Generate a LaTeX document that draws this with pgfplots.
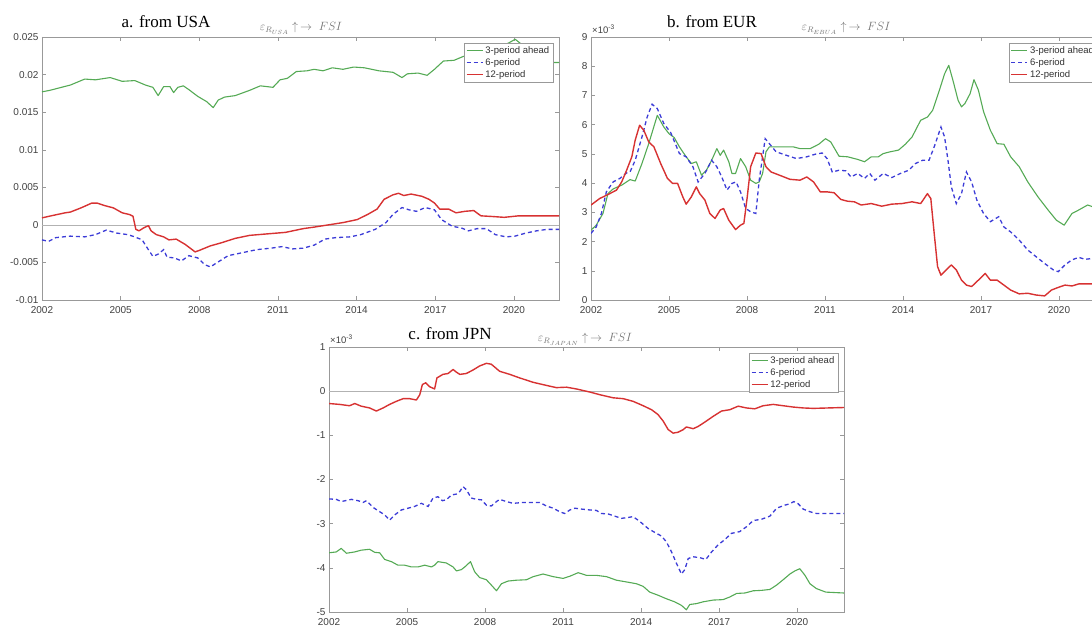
\documentclass[border=0pt]{standalone}
\usepackage{fontspec}
\setmainfont{Liberation Sans}
\newfontfamily\serif{Liberation Serif}
\usepackage{pgfplots}
\pgfplotsset{compat=1.18}

\definecolor{cgreen}{RGB}{85,170,85}
\definecolor{cblue}{RGB}{60,60,215}
\definecolor{cred}{RGB}{215,50,50}

\pgfplotsset{
  panel/.style={
    scale only axis,
    xmin=2002, xmax=2021.72,
    xtick={2002,2005,2008,2011,2014,2017,2020},
    xticklabels={2002,2005,2008,2011,2014,2017,2020},
    scaled y ticks=false,
    axis line style={black!40},
    tick style={black!40, thin},
    major tick length=4pt,
    tick label style={font=\fontsize{10}{12}\selectfont, text=black!75},
    xticklabel style={yshift=-3pt},
    legend style={at={(1,1)}, anchor=north east, xshift=-6pt, yshift=-6pt,
      draw=black!40, font=\fontsize{9.5}{10}\selectfont, inner sep=1.5pt,
      row sep=-0.5pt, cells={anchor=west}, text=black!80},
    legend image code/.code={\draw[##1] (0pt,0pt) -- (16pt,0pt);},
  },
  g3/.style={cgreen, line width=1.1pt, line join=round},
  b6/.style={cblue, line width=1.3pt, dash pattern=on 4pt off 3pt},
  r12/.style={cred, line width=1.4pt, line join=round},
}

\begin{document}
\begin{tikzpicture}
\useasboundingbox (0,0) rectangle (1092pt,628pt);

% ---------- a. from USA ----------
\begin{axis}[panel,
  at={(42pt,328pt)}, anchor=south west,
  width=517pt, height=263pt,
  ymin=-0.01, ymax=0.025,
  ytick={-0.01,-0.005,0,0.005,0.01,0.015,0.02,0.025},
  yticklabels={-0.01,-0.005,0,0.005,0.01,0.015,0.02,0.025},
]
\addplot[black!30, line width=0.6pt, forget plot] coordinates {(2002,0) (2021.72,0)};
\addplot[g3] coordinates {
(2002.0,0.0177) (2002.3,0.0179) (2002.74,0.0183) (2003.08,0.0186) (2003.63,0.0194)
(2004.04,0.0193) (2004.6,0.0196) (2005.06,0.0191) (2005.54,0.0192) (2005.95,0.0186)
(2006.23,0.0183) (2006.43,0.0172) (2006.64,0.0184) (2006.88,0.0184) (2007.02,0.0176)
(2007.18,0.0183) (2007.39,0.0185) (2007.6,0.0180) (2007.94,0.0171) (2008.28,0.0164)
(2008.53,0.0156) (2008.72,0.0166) (2008.96,0.0170) (2009.37,0.0172) (2009.92,0.0179)
(2010.33,0.0185) (2010.81,0.0183) (2011.08,0.0193) (2011.36,0.0195) (2011.7,0.0204)
(2012.11,0.0205) (2012.38,0.0207) (2012.72,0.0205) (2013.07,0.0209) (2013.48,0.0207)
(2013.89,0.0210) (2014.3,0.0209) (2014.85,0.0205) (2015.39,0.0203) (2015.73,0.0196)
(2015.94,0.0201) (2016.35,0.0202) (2016.69,0.0199) (2016.97,0.0207) (2017.31,0.0218)
(2017.72,0.0219) (2018.06,0.0224) (2018.5,0.0228) (2019.2,0.0234) (2019.8,0.0242)
(2020.05,0.0247) (2020.3,0.0240) (2020.6,0.0228) (2021.0,0.0222) (2021.5,0.0216)
(2021.72,0.0216)
};
\addplot[b6] coordinates {
(2002.0,-0.0020) (2002.25,-0.0022) (2002.53,-0.0017) (2003.08,-0.0015) (2003.63,-0.0016)
(2004.04,-0.0013) (2004.45,-0.0007) (2004.86,-0.0011) (2005.27,-0.0013) (2005.54,-0.0016)
(2005.82,-0.0020) (2006.02,-0.0031) (2006.23,-0.0042) (2006.43,-0.0039) (2006.64,-0.0033)
(2006.77,-0.0043) (2007.05,-0.0044) (2007.32,-0.0048) (2007.6,-0.0041) (2007.94,-0.0044)
(2008.21,-0.0053) (2008.42,-0.0056) (2008.69,-0.0050) (2009.1,-0.0041) (2009.65,-0.0037)
(2010.19,-0.0033) (2010.74,-0.0031) (2011.15,-0.0029) (2011.56,-0.0032) (2011.97,-0.0031)
(2012.38,-0.0027) (2012.79,-0.0019) (2013.2,-0.0017) (2013.75,-0.0016) (2014.16,-0.0013)
(2014.71,-0.0006) (2015.12,0.0003) (2015.39,0.0014) (2015.73,0.0023) (2016.0,0.0020)
(2016.28,0.0018) (2016.62,0.0023) (2016.97,0.0020) (2017.24,0.0007) (2017.65,-0.0002)
(2017.99,-0.0004) (2018.26,-0.0008) (2018.6,-0.0005) (2018.95,-0.0005) (2019.29,-0.0013)
(2019.7,-0.0016) (2020.04,-0.0015) (2020.45,-0.0011) (2020.86,-0.0008) (2021.27,-0.0006)
(2021.72,-0.0006)
};
\addplot[r12] coordinates {
(2002.0,0.00093) (2002.4,0.00124) (2002.88,0.0016) (2003.08,0.0017) (2003.49,0.00226)
(2003.9,0.0029) (2004.1,0.0029) (2004.38,0.00257) (2004.72,0.00226) (2005.06,0.0016)
(2005.34,0.00137) (2005.47,0.00115) (2005.58,-0.0006) (2005.7,-0.0008) (2005.88,-0.0004)
(2006.06,-0.0001) (2006.16,-0.0008) (2006.36,-0.0013) (2006.64,-0.0016) (2006.84,-0.0020)
(2007.12,-0.0019) (2007.46,-0.0026) (2007.84,-0.0036) (2008.0,-0.0034) (2008.42,-0.0028)
(2008.83,-0.0024) (2009.37,-0.0018) (2009.92,-0.0014) (2010.6,-0.0012) (2011.29,-0.0010)
(2011.97,-0.0005) (2012.38,-0.0003) (2012.93,0.0000) (2013.48,0.0003) (2014.02,0.0007)
(2014.43,0.0014) (2014.78,0.0021) (2015.05,0.0034) (2015.39,0.0040) (2015.6,0.0042)
(2015.8,0.0039) (2016.08,0.0041) (2016.49,0.0038) (2016.76,0.0034) (2016.97,0.0029)
(2017.17,0.0021) (2017.51,0.0021) (2017.79,0.0016) (2018.13,0.0018) (2018.47,0.0019)
(2018.74,0.0012) (2019.22,0.0011) (2019.63,0.0010) (2020.18,0.0012) (2020.86,0.0012)
(2021.72,0.0012)
};
\legend{3-period ahead,6-period,12-period}
\end{axis}

% ---------- b. from EUR ----------
\begin{axis}[panel, name=axb,
  at={(591pt,328pt)}, anchor=south west,
  width=512.7pt, height=263pt,
  ymin=0, ymax=9,
  ytick={0,1,2,3,4,5,6,7,8,9},
  yticklabels={0,1,2,3,4,5,6,7,8,9},
]
\addplot[g3] coordinates {
(2002.0,2.39) (2002.2,2.56) (2002.46,2.96) (2002.65,3.64) (2002.85,3.80) (2003.18,3.93)
(2003.5,4.12) (2003.7,4.07) (2003.96,4.67) (2004.22,5.35) (2004.55,6.32) (2004.8,5.92)
(2005.0,5.69) (2005.2,5.56) (2005.4,5.24) (2005.66,4.90) (2005.86,4.67) (2006.05,4.73)
(2006.25,4.27) (2006.44,4.44) (2006.64,4.78) (2006.84,5.18) (2006.97,4.95) (2007.1,5.13)
(2007.3,4.73) (2007.42,4.33) (2007.56,4.33) (2007.75,4.84) (2007.95,4.56) (2008.14,4.10)
(2008.34,3.99) (2008.47,4.04) (2008.6,4.33) (2008.73,5.07) (2008.86,5.24) (2009.25,5.24)
(2009.78,5.24) (2010.04,5.18) (2010.43,5.18) (2010.76,5.33) (2011.02,5.52) (2011.22,5.41)
(2011.54,4.92) (2011.87,4.90) (2012.26,4.81) (2012.52,4.73) (2012.78,4.90) (2013.05,4.90)
(2013.24,5.01) (2013.5,5.07) (2013.83,5.13) (2014.09,5.33) (2014.35,5.58) (2014.68,6.15)
(2014.94,6.26) (2015.14,6.49) (2015.4,7.18) (2015.6,7.74) (2015.76,8.03) (2015.92,7.52)
(2016.12,6.83) (2016.25,6.61) (2016.38,6.72) (2016.58,7.06) (2016.73,7.54) (2016.9,7.18)
(2017.1,6.44) (2017.36,5.81) (2017.62,5.35) (2017.88,5.33) (2018.14,4.90) (2018.47,4.56)
(2018.8,4.04) (2019.19,3.53) (2019.58,3.08) (2019.9,2.73) (2020.2,2.56) (2020.5,2.96)
(2020.76,3.08) (2021.1,3.25) (2021.3,3.19) (2021.72,3.20)
};
\addplot[b6] coordinates {
(2002.0,2.28) (2002.2,2.50) (2002.4,2.96) (2002.59,3.70) (2002.85,4.04) (2003.11,4.16)
(2003.37,4.35) (2003.5,4.38) (2003.7,4.78) (2003.96,5.58) (2004.16,6.26) (2004.35,6.70)
(2004.55,6.55) (2004.8,6.04) (2005.07,5.72) (2005.4,5.01) (2005.66,4.90) (2005.92,4.56)
(2006.12,4.04) (2006.38,4.33) (2006.64,4.78) (2006.84,4.56) (2007.03,4.21) (2007.23,3.76)
(2007.42,3.99) (2007.58,4.04) (2007.75,3.70) (2007.95,3.13) (2008.14,3.02) (2008.34,2.96)
(2008.47,4.10) (2008.7,5.52) (2008.86,5.35) (2009.12,5.07) (2009.52,4.95) (2009.9,4.84)
(2010.3,4.90) (2010.63,4.99) (2010.89,5.03) (2011.08,4.84) (2011.28,4.38) (2011.54,4.44)
(2011.8,4.42) (2012.0,4.21) (2012.26,4.33) (2012.52,4.16) (2012.72,4.33) (2012.92,4.10)
(2013.24,4.33) (2013.57,4.19) (2013.9,4.33) (2014.22,4.44) (2014.48,4.67) (2014.75,4.78)
(2015.0,4.78) (2015.2,5.24) (2015.46,5.92) (2015.6,5.58) (2015.73,4.78) (2015.86,3.87)
(2016.05,3.30) (2016.25,3.64) (2016.44,4.38) (2016.64,4.04) (2016.84,3.42) (2017.1,2.96)
(2017.36,2.68) (2017.68,2.85) (2017.88,2.50) (2018.14,2.33) (2018.47,2.05) (2018.8,1.71)
(2019.12,1.48) (2019.45,1.25) (2019.78,1.03) (2019.97,0.97) (2020.23,1.20) (2020.49,1.37)
(2020.76,1.46) (2021.0,1.39) (2021.27,1.42) (2021.72,1.40)
};
\addplot[r12] coordinates {
(2002.0,3.25) (2002.33,3.47) (2002.72,3.64) (2002.98,3.76) (2003.18,4.04) (2003.37,4.44)
(2003.57,4.90) (2003.7,5.47) (2003.87,5.98) (2004.03,5.81) (2004.22,5.41) (2004.42,5.24)
(2004.68,4.67) (2004.94,4.16) (2005.14,3.99) (2005.33,3.99) (2005.53,3.53) (2005.66,3.28)
(2005.86,3.53) (2006.05,3.87) (2006.18,3.64) (2006.38,3.42) (2006.57,2.96) (2006.77,2.79)
(2006.97,3.08) (2007.1,3.13) (2007.3,2.73) (2007.56,2.41) (2007.75,2.56) (2007.88,2.62)
(2008.01,3.53) (2008.14,4.56) (2008.34,5.03) (2008.54,5.01) (2008.73,4.56) (2008.93,4.38)
(2009.25,4.27) (2009.65,4.13) (2010.04,4.10) (2010.3,4.21) (2010.56,4.04) (2010.82,3.70)
(2011.08,3.70) (2011.35,3.67) (2011.61,3.44) (2011.87,3.38) (2012.13,3.36) (2012.39,3.25)
(2012.78,3.30) (2013.18,3.21) (2013.57,3.28) (2013.96,3.30) (2014.35,3.36) (2014.68,3.30)
(2014.94,3.64) (2015.07,3.47) (2015.2,2.28) (2015.33,1.14) (2015.46,0.85) (2015.66,1.03)
(2015.86,1.20) (2016.05,1.03) (2016.25,0.68) (2016.44,0.51) (2016.64,0.46) (2016.9,0.68)
(2017.16,0.91) (2017.36,0.68) (2017.62,0.68) (2017.88,0.51) (2018.14,0.34) (2018.47,0.21)
(2018.8,0.23) (2019.12,0.17) (2019.45,0.14) (2019.71,0.34) (2019.97,0.43) (2020.23,0.51)
(2020.5,0.48) (2020.76,0.55) (2021.27,0.55) (2021.72,0.55)
};
\legend{3-period ahead,6-period,12-period}
\end{axis}

% ---------- c. from JPN ----------
\begin{axis}[panel, name=axc,
  at={(329pt,16pt)}, anchor=south west,
  width=515pt, height=265pt,
  xmax=2021.8,
  ymin=-5, ymax=1,
  ytick={-5,-4,-3,-2,-1,0,1},
  yticklabels={-5,-4,-3,-2,-1,0,1},
]
\addplot[black!30, line width=0.6pt, forget plot] coordinates {(2002,0) (2021.8,0)};
\addplot[g3] coordinates {
(2002.0,-3.66) (2002.28,-3.64) (2002.47,-3.56) (2002.67,-3.67) (2002.99,-3.64) (2003.24,-3.60)
(2003.56,-3.58) (2003.76,-3.65) (2003.95,-3.66) (2004.14,-3.81) (2004.4,-3.86) (2004.65,-3.94)
(2004.91,-3.94) (2005.17,-3.98) (2005.42,-3.98) (2005.68,-3.94) (2005.94,-3.98) (2006.06,-3.94)
(2006.19,-3.86) (2006.51,-3.89) (2006.77,-3.98) (2006.9,-4.07) (2007.09,-4.04) (2007.22,-3.98)
(2007.44,-3.86) (2007.6,-4.09) (2007.79,-4.22) (2008.05,-4.27) (2008.24,-4.39) (2008.44,-4.52)
(2008.63,-4.36) (2008.88,-4.30) (2009.21,-4.28) (2009.59,-4.27) (2009.85,-4.20) (2010.23,-4.14)
(2010.62,-4.20) (2011.0,-4.24) (2011.26,-4.19) (2011.58,-4.11) (2011.9,-4.17) (2012.28,-4.17)
(2012.67,-4.20) (2013.05,-4.28) (2013.44,-4.32) (2013.82,-4.36) (2014.08,-4.42) (2014.33,-4.55)
(2014.65,-4.62) (2014.97,-4.70) (2015.29,-4.77) (2015.55,-4.85) (2015.74,-4.95) (2015.87,-4.83)
(2016.13,-4.81) (2016.38,-4.77) (2016.77,-4.73) (2017.15,-4.72) (2017.41,-4.66) (2017.67,-4.58)
(2017.99,-4.57) (2018.31,-4.52) (2018.63,-4.51) (2018.95,-4.49) (2019.21,-4.39) (2019.46,-4.27)
(2019.72,-4.14) (2019.91,-4.07) (2020.1,-4.02) (2020.3,-4.17) (2020.49,-4.36) (2020.74,-4.47)
(2021.1,-4.55) (2021.8,-4.57)
};
\addplot[b6] coordinates {
(2002.0,-2.44) (2002.28,-2.45) (2002.47,-2.50) (2002.86,-2.45) (2003.12,-2.48) (2003.31,-2.52)
(2003.44,-2.48) (2003.69,-2.63) (2003.95,-2.73) (2004.14,-2.80) (2004.33,-2.92) (2004.53,-2.80)
(2004.78,-2.69) (2005.04,-2.65) (2005.29,-2.61) (2005.55,-2.54) (2005.81,-2.61) (2006.0,-2.42)
(2006.19,-2.39) (2006.36,-2.48) (2006.51,-2.46) (2006.71,-2.35) (2006.9,-2.33) (2007.03,-2.27)
(2007.15,-2.16) (2007.28,-2.23) (2007.47,-2.42) (2007.67,-2.45) (2007.86,-2.46) (2008.05,-2.58)
(2008.24,-2.60) (2008.44,-2.50) (2008.56,-2.45) (2008.82,-2.50) (2009.08,-2.54) (2009.46,-2.52)
(2009.85,-2.52) (2010.1,-2.52) (2010.36,-2.60) (2010.62,-2.65) (2010.87,-2.73) (2011.06,-2.77)
(2011.26,-2.69) (2011.45,-2.65) (2011.71,-2.67) (2012.03,-2.69) (2012.28,-2.70) (2012.47,-2.77)
(2012.73,-2.78) (2012.99,-2.83) (2013.24,-2.88) (2013.5,-2.86) (2013.69,-2.84) (2013.95,-2.95)
(2014.27,-3.11) (2014.53,-3.20) (2014.78,-3.28) (2014.97,-3.41) (2015.17,-3.64) (2015.36,-3.90)
(2015.55,-4.14) (2015.68,-4.04) (2015.81,-3.79) (2016.0,-3.75) (2016.26,-3.77) (2016.49,-3.81)
(2016.71,-3.64) (2016.96,-3.48) (2017.22,-3.36) (2017.47,-3.22) (2017.79,-3.18) (2018.05,-3.07)
(2018.31,-2.93) (2018.63,-2.90) (2018.95,-2.83) (2019.21,-2.65) (2019.53,-2.58) (2019.72,-2.55)
(2019.87,-2.50) (2020.04,-2.55) (2020.23,-2.67) (2020.49,-2.73) (2020.74,-2.77) (2021.8,-2.77)
};
\addplot[r12] coordinates {
(2002.0,-0.28) (2002.41,-0.30) (2002.79,-0.33) (2002.99,-0.28) (2003.24,-0.34) (2003.56,-0.38)
(2003.82,-0.45) (2004.08,-0.38) (2004.33,-0.30) (2004.59,-0.23) (2004.85,-0.17) (2005.1,-0.17)
(2005.36,-0.20) (2005.49,-0.08) (2005.59,0.15) (2005.72,0.19) (2005.87,0.10) (2006.06,0.05)
(2006.15,0.30) (2006.38,0.38) (2006.58,0.40) (2006.77,0.49) (2006.9,0.43) (2007.03,0.38)
(2007.28,0.40) (2007.54,0.48) (2007.79,0.57) (2008.05,0.63) (2008.24,0.61) (2008.56,0.45)
(2008.95,0.38) (2009.33,0.30) (2009.85,0.20) (2010.36,0.13) (2010.74,0.08) (2011.13,0.09)
(2011.51,0.05) (2012.03,-0.02) (2012.41,-0.08) (2012.92,-0.15) (2013.31,-0.17) (2013.69,-0.23)
(2014.08,-0.33) (2014.4,-0.42) (2014.65,-0.53) (2014.85,-0.68) (2015.04,-0.87) (2015.23,-0.95)
(2015.42,-0.93) (2015.62,-0.87) (2015.74,-0.81) (2015.87,-0.83) (2016.0,-0.85) (2016.19,-0.80)
(2016.45,-0.70) (2016.77,-0.57) (2017.09,-0.45) (2017.41,-0.42) (2017.73,-0.34) (2018.05,-0.38)
(2018.37,-0.40) (2018.69,-0.33) (2019.08,-0.30) (2019.46,-0.33) (2019.85,-0.36) (2020.23,-0.38)
(2020.62,-0.39) (2021.2,-0.38) (2021.8,-0.37)
};
\legend{3-period ahead,6-period,12-period}
\end{axis}

% ---------- scale labels ----------
\node[anchor=south west, inner sep=0pt, xshift=1pt, yshift=3pt, font=\fontsize{9.5}{10}\selectfont, text=black!75]
  at (axb.north west) {×10\textsuperscript{-3}};
\node[anchor=south west, inner sep=0pt, xshift=1pt, yshift=3pt, font=\fontsize{9.5}{10}\selectfont, text=black!75]
  at (axc.north west) {×10\textsuperscript{-3}};

% ---------- titles ----------
\node[anchor=base, inner sep=0pt, font=\serif\fontsize{17}{20}\selectfont] at (166pt,600pt) {a. from USA};
\node[anchor=base, inner sep=0pt, font=\serif\fontsize{17}{20}\selectfont] at (712pt,600pt) {b. from EUR};
\node[anchor=base, inner sep=0pt, font=\serif\fontsize{17}{20}\selectfont] at (450pt,288pt) {c. from JPN};
\node[anchor=base, inner sep=0pt, text=black!55, font=\fontsize{11.5}{13}\selectfont] at (301pt,597pt)
  {$\varepsilon_{R_{USA}}\uparrow\,\rightarrow\;FSI$};
\node[anchor=base, inner sep=0pt, text=black!55, font=\fontsize{11.5}{13}\selectfont] at (846pt,597pt)
  {$\varepsilon_{R_{EBUA}}\uparrow\,\rightarrow\;FSI$};
\node[anchor=base, inner sep=0pt, text=black!55, font=\fontsize{11.5}{13}\selectfont] at (585pt,286pt)
  {$\varepsilon_{R_{JAPAN}}\uparrow\,\rightarrow\;FSI$};
\end{tikzpicture}
\end{document}
